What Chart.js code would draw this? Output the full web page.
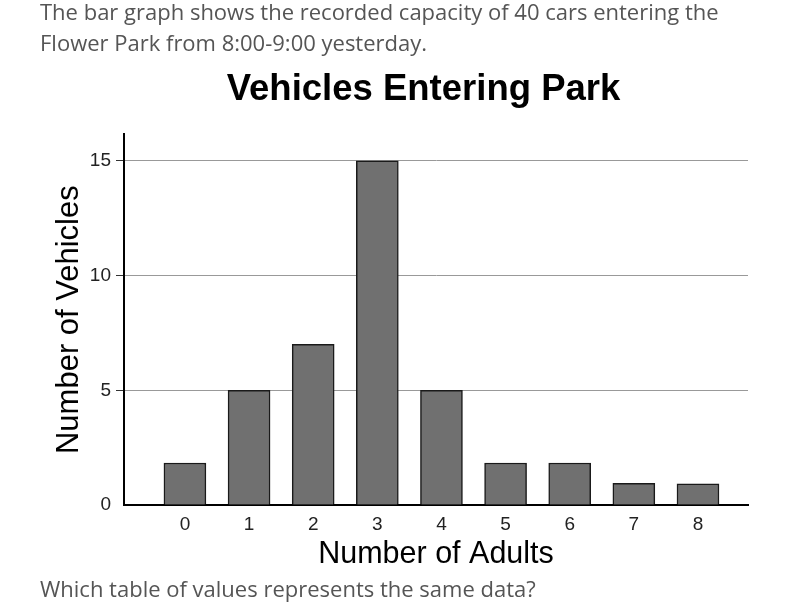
<!DOCTYPE html>
<html>
<head>
<meta charset="utf-8">
<script src="https://cdn.jsdelivr.net/npm/chart.js@4"></script>
<style>
html,body{margin:0;padding:0;background:#fff;overflow:hidden;width:791px;height:609px}
#c{position:absolute;left:0;top:0}
.t{position:absolute;left:40px;font-family:"Open Sans",sans-serif;font-size:22px;line-height:31px;color:#555;white-space:nowrap;z-index:2}
</style>
</head>
<body>
<div class="t" style="top:-4px">The bar graph shows the recorded capacity of 40 cars entering the<br>Flower Park from 8:00-9:00 yesterday.</div>
<canvas id="c" width="807" height="609"></canvas>
<div class="t" style="top:573px">Which table of values represents the same data?</div>
<script>
const categories = [0, 1, 2, 3, 4, 5, 6, 7, 8];
const vehicles = [1.83, 5, 7, 15, 5, 1.83, 1.83, 0.95, 0.92];
const yTicks = [0, 5, 10, 15];
const chartTitle = 'Vehicles Entering Park';
const xTitle = 'Number of Adults';
const yTitle = 'Number of Vehicles';

Chart.defaults.font.family = '"Liberation Sans", Arial, sans-serif';

new Chart(document.getElementById('c'), {
  type: 'bar',
  data: {
    datasets: [{
      data: categories.map((c, i) => ({ x: c, y: vehicles[i] })),
      backgroundColor: '#707070',
      borderColor: '#1a1a1a',
      borderWidth: 1.5,
      barThickness: 42
    }]
  },
  options: {
    responsive: false,
    animation: false,
    events: [],
    layout: { padding: { left: 40, right: 0, top: 0, bottom: 36 } },
    plugins: {
      legend: { display: false },
      tooltip: { enabled: false },
      title: {
        display: true,
        text: chartTitle,
        color: '#000',
        font: { size: 36.5, weight: 'bold' },
        padding: { top: 68, bottom: 22.5 }
      }
    },
    scales: {
      x: {
        type: 'linear',
        offset: false,
        min: -0.95,
        max: 8.78,
        afterBuildTicks: s => { s.ticks = categories.map(v => ({ value: v })); },
        afterFit: s => { s.height = 68; },
        grid: { display: false, drawTicks: false, offset: false },
        border: { display: true, color: '#000', width: 2 },
        ticks: { padding: 8, color: '#222', font: { size: 19 }, autoSkip: false, maxRotation: 0, callback: v => String(v) },
        title: { display: true, text: xTitle, color: '#000', font: { size: 30.5 }, padding: { top: 0, bottom: 0 } }
      },
      y: {
        min: 0,
        max: 16.16,
        afterBuildTicks: s => { s.ticks = yTicks.map(v => ({ value: v })); },
        afterFit: s => { s.width = 84; },
        grid: {
          color: '#999',
          lineWidth: 1,
          tickLength: 8,
          tickColor: ctx => (ctx.tick && ctx.tick.value === 0) ? 'rgba(0,0,0,0)' : '#333'
        },
        border: { color: '#000', width: 2 },
        ticks: { padding: 5, color: '#222', font: { size: 19 } },
        title: { display: true, text: yTitle, color: '#000', font: { size: 31 }, padding: { top: 11, bottom: 0 } }
      },
      pad: {
        position: 'right',
        display: true,
        min: 0,
        max: 1,
        afterFit: s => { s.width = 59; },
        grid: { display: false, drawTicks: false },
        border: { display: false },
        ticks: { display: false }
      }
    }
  }
});
</script>
</body>
</html>
